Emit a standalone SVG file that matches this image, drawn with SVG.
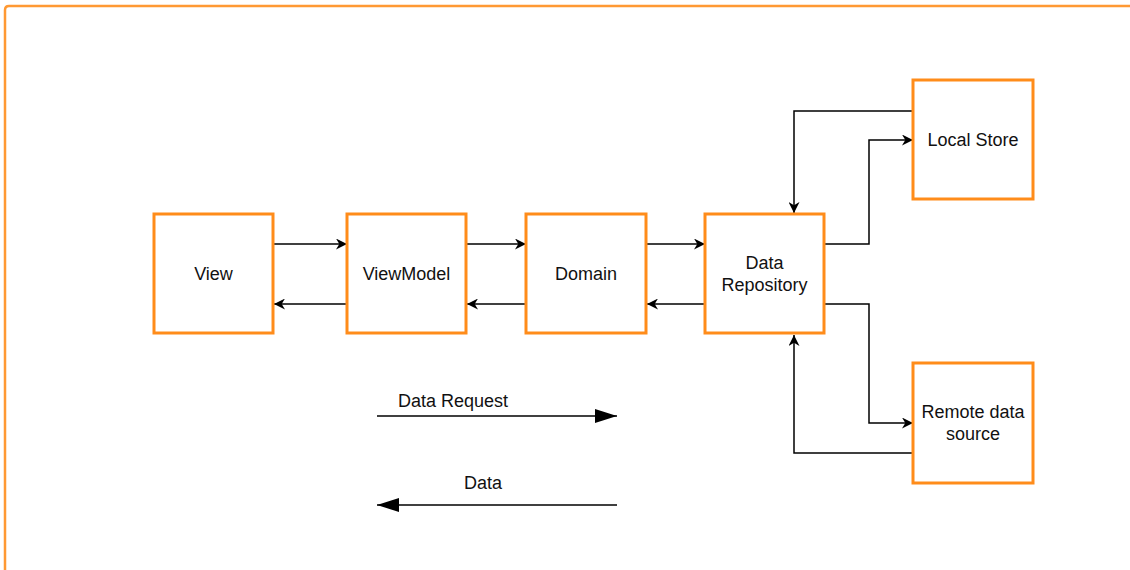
<svg xmlns="http://www.w3.org/2000/svg" width="1130" height="570" viewBox="0 0 1130 570">
<defs>
<style>
.node{fill:#fff;stroke:#ff8c1a;stroke-width:3}
.lbl{font-family:"Liberation Sans",Arial,sans-serif;font-size:18px;fill:#111;text-anchor:middle}
.conn{fill:none;stroke:#000;stroke-width:1.5}
.leg{fill:none;stroke:#000;stroke-width:1.5}
</style>
<marker id="arr" viewBox="0 0 10 10" refX="10" refY="5" markerWidth="11" markerHeight="11" markerUnits="userSpaceOnUse" orient="auto">
<path d="M0,0 L10,5 L0,10 L3,5 Z" fill="#000"/>
</marker>
<marker id="blk" viewBox="0 0 22 14" refX="22" refY="7" markerWidth="22" markerHeight="14" markerUnits="userSpaceOnUse" orient="auto">
<path d="M0,0 L22,7 L0,14 Z" fill="#000"/>
</marker>
</defs>
<rect width="1130" height="570" fill="#fff"/>
<path d="M5,572 L5,10 Q5,6 9,6 L1132,6" fill="none" stroke="#ff9933" stroke-width="2.5"/>

<g id="connectors">
<line class="conn" x1="273" y1="244" x2="347" y2="244" marker-end="url(#arr)"/>
<line class="conn" x1="347" y1="304" x2="274" y2="304" marker-end="url(#arr)"/>
<line class="conn" x1="466" y1="244" x2="526" y2="244" marker-end="url(#arr)"/>
<line class="conn" x1="526" y1="304" x2="467" y2="304" marker-end="url(#arr)"/>
<line class="conn" x1="646" y1="244" x2="705" y2="244" marker-end="url(#arr)"/>
<line class="conn" x1="705" y1="304" x2="647" y2="304" marker-end="url(#arr)"/>
<polyline class="conn" points="913,111 794,111 794,213" marker-end="url(#arr)"/>
<polyline class="conn" points="824,244 869,244 869,140 913,140" marker-end="url(#arr)"/>
<polyline class="conn" points="824,304 869,304 869,423 913,423" marker-end="url(#arr)"/>
<polyline class="conn" points="913,453 794,453 794,335" marker-end="url(#arr)"/>
</g>

<g id="legend">
<line class="leg" x1="377" y1="416" x2="617" y2="416" marker-end="url(#blk)"/>
<text class="lbl" x="453" y="407">Data Request</text>
<line class="leg" x1="617" y1="505" x2="377" y2="505" marker-end="url(#blk)"/>
<text class="lbl" x="483" y="489">Data</text>
</g>

<g id="view">
<rect class="node" x="154" y="214" width="119" height="119"/>
<text class="lbl" x="213.5" y="280">View</text>
</g>
<g id="viewmodel">
<rect class="node" x="347" y="214" width="119" height="119"/>
<text class="lbl" x="406.5" y="280">ViewModel</text>
</g>
<g id="domain">
<rect class="node" x="526" y="214" width="120" height="119"/>
<text class="lbl" x="586" y="280">Domain</text>
</g>
<g id="datarepo">
<rect class="node" x="705" y="214" width="119" height="119"/>
<text class="lbl" x="764.5" y="269">Data</text>
<text class="lbl" x="764.5" y="291">Repository</text>
</g>
<g id="localstore">
<rect class="node" x="913" y="80" width="120" height="119"/>
<text class="lbl" x="973" y="146">Local Store</text>
</g>
<g id="remote">
<rect class="node" x="913" y="363" width="120" height="120"/>
<text class="lbl" x="973" y="418">Remote data</text>
<text class="lbl" x="973" y="440">source</text>
</g>
</svg>
